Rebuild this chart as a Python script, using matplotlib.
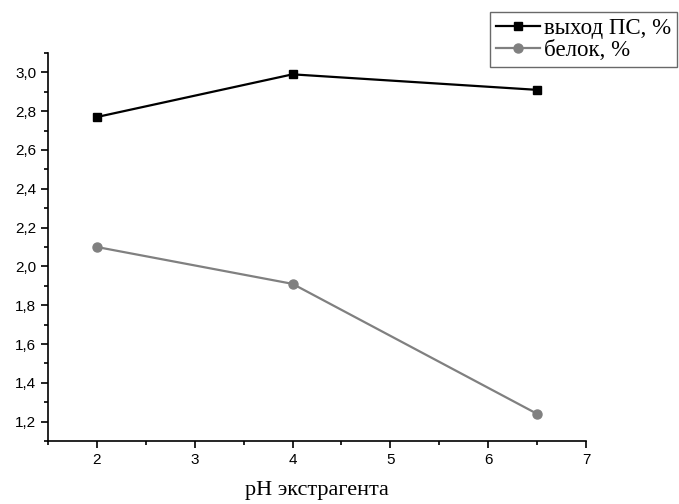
import matplotlib
matplotlib.use("Agg")
import matplotlib.pyplot as plt
from matplotlib.ticker import MultipleLocator

# data
ph = [2, 4, 6.5]
yield_ps = [2.77, 2.99, 2.91]
protein = [2.10, 1.91, 1.24]
labels = ["выход ПС, %", "белок, %"]

fig = plt.figure(figsize=(6.79, 5.04), dpi=100)
ax = fig.add_axes([48 / 679, 63 / 504, 538 / 679, 388 / 504])

ax.plot(ph, yield_ps, color="black", lw=1.6, marker="s", ms=6, label=labels[0])
ax.plot(ph, protein, color="#808080", lw=1.6, marker="o", ms=6.5, label=labels[1])

ax.set_xlim(1.5, 7)
ax.set_ylim(1.1, 3.1)
ax.xaxis.set_major_locator(MultipleLocator(1))
ax.xaxis.set_minor_locator(MultipleLocator(0.5))
ax.yaxis.set_major_locator(MultipleLocator(0.2))
ax.yaxis.set_minor_locator(MultipleLocator(0.1))
ax.yaxis.set_major_formatter(plt.FuncFormatter(lambda v, p: f"{v:.1f}".replace(".", ",")))

for s in ["top", "right"]:
    ax.spines[s].set_visible(False)
for s in ["left", "bottom"]:
    ax.spines[s].set_linewidth(1.2)

ax.tick_params(which="major", direction="out", length=5, width=1.2,
               labelsize=11, labelfontfamily="Liberation Sans")
ax.tick_params(which="minor", direction="out", length=3, width=1.2)

ax.set_xlabel("pH экстрагента", fontsize=16, family="Liberation Serif", labelpad=10)

leg = fig.legend(loc="upper right", bbox_to_anchor=(677 / 679, 1 - 12 / 504),
                 prop={"family": "Liberation Serif", "size": 16.5},
                 frameon=True, fancybox=False, edgecolor="#444444",
                 handlelength=1.9, handletextpad=0.2, borderpad=0.25,
                 labelspacing=0.05, borderaxespad=0)
leg.get_frame().set_linewidth(1.0)

fig.savefig("out.png", dpi=100)
